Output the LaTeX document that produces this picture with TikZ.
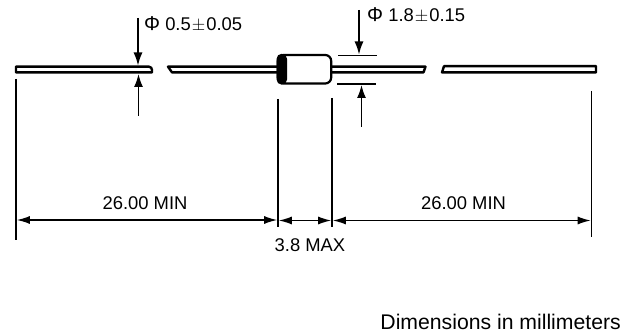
\documentclass[tikz,border=0pt]{standalone}
\usepackage{fontspec}
\setmainfont{Liberation Sans}
\usetikzlibrary{arrows.meta}
\tikzset{
  lead/.style={line width=2.4pt, line join=round},
  dimline/.style={line width=1.7pt},
  dimarrow/.style={line width=1.4pt, {Latex[length=13pt,width=8pt]}-{Latex[length=13pt,width=8pt]}},
  callout/.style={line width=1.5pt, -{Latex[length=13pt,width=9pt]}},
  dimtext/.style={font=\fontsize{18.4}{20}\selectfont, inner sep=0pt},
}
\newcommand{\diasign}{\fontsize{20}{20}\selectfont Φ\fontsize{18.4}{20}\selectfont}
\begin{document}
\begin{tikzpicture}[x=1pt, y=-1pt]
          \useasboundingbox (0,0) rectangle (633,334);
          % leads
          \draw[lead] (16,66.7) -- (149,66.7) to[out=0,in=90] (152,70) -- (152,72.4) -- (16,72.4) -- cycle;
          \draw[lead] (277,72.4) -- (172,72.4) -- (168,66.7) -- (277,66.7);
          \draw[lead] (332,66.7) -- (425.5,66.7) -- (423.5,72.4) -- (332,72.4);
          \draw[lead] (444,66.2) -- (596,66.2) -- (596,72.4) -- (442,72.4) -- cycle;
          % body
          \draw[line width=2.2pt, fill=white, rounded corners=6pt] (277.8,55) rectangle (331.2,83.5);
          \fill[black, rounded corners=5pt] (276.6,53.8) -- (287,53.8) -- (287,84.6) -- (276.6,84.6) -- cycle;
          % extension lines
          \node[coordinate] (lefttop) at (16,79) {};
          \node[coordinate] (leftbot) at (16,240) {};
          \node[coordinate] (bodyltop) at (278,99) {};
          \node[coordinate] (bodylbot) at (278,227) {};
          \node[coordinate] (bodyrtop) at (332,98) {};
          \node[coordinate] (bodyrbot) at (332,227) {};
          \node[coordinate] (righttop) at (591.5,91) {};
          \node[coordinate] (rightbot) at (591.5,237) {};
          \draw[dimline] (lefttop) -- (leftbot);
          \draw[dimline] (bodyltop) -- (bodylbot);
          \draw[dimline] (bodyrtop) -- (bodyrbot);
          \draw[dimline] (righttop) -- (rightbot);
          % dimension arrows
          \draw[dimarrow] (16.8,220) -- (277.2,220);
          \draw[dimarrow] (278.8,220.5) -- (331.2,220.5);
          \draw[dimarrow] (332.8,220.5) -- (590.7,220.5);
          % lead diameter
          \node[coordinate] (wiretopin) at (138,18) {};
          \node[coordinate] (wiretop) at (138,65.5) {};
          \node[coordinate] (wirebotin) at (138.5,116) {};
          \node[coordinate] (wirebot) at (138.5,74) {};
          \draw[callout] (wiretopin) -- (wiretop);
          \draw[callout] (wirebotin) -- (wirebot);
          % body diameter
          \node[coordinate] (bartopl) at (338,55.5) {};
          \node[coordinate] (bartopr) at (377,55.5) {};
          \node[coordinate] (barbotl) at (337,84) {};
          \node[coordinate] (barbotr) at (376,84) {};
          \draw[dimline] (bartopl) -- (bartopr);
          \draw[dimline] (barbotl) -- (barbotr);
          \node[coordinate] (bodytopin) at (359,10) {};
          \node[coordinate] (bodytop) at (359,54.5) {};
          \node[coordinate] (bodybotin) at (361.5,127) {};
          \node[coordinate] (bodybot) at (361.5,85) {};
          \draw[callout] (bodytopin) -- (bodytop);
          \draw[callout] (bodybotin) -- (bodybot);
          % labels
          \node[dimtext, anchor=west] (leaddia) at (144,24) {\diasign\ 0.5\kern1pt$\pm$\kern1pt 0.05};
          \node[dimtext, anchor=west] (bodydia) at (367,15) {\diasign\ 1.8\kern1pt$\pm$\kern1pt 0.15};
          \node[dimtext] (leftlen) at (145,203) {26.00 MIN};
          \node[dimtext] (rightlen) at (463.5,203) {26.00 MIN};
          \node[dimtext] (bodylen) at (310,245) {3.8 MAX};
          \node[dimtext, font=\fontsize{21.2}{24}\selectfont, anchor=east] (units) at (621,322) {Dimensions in millimeters};
        \end{tikzpicture}
\end{document}
